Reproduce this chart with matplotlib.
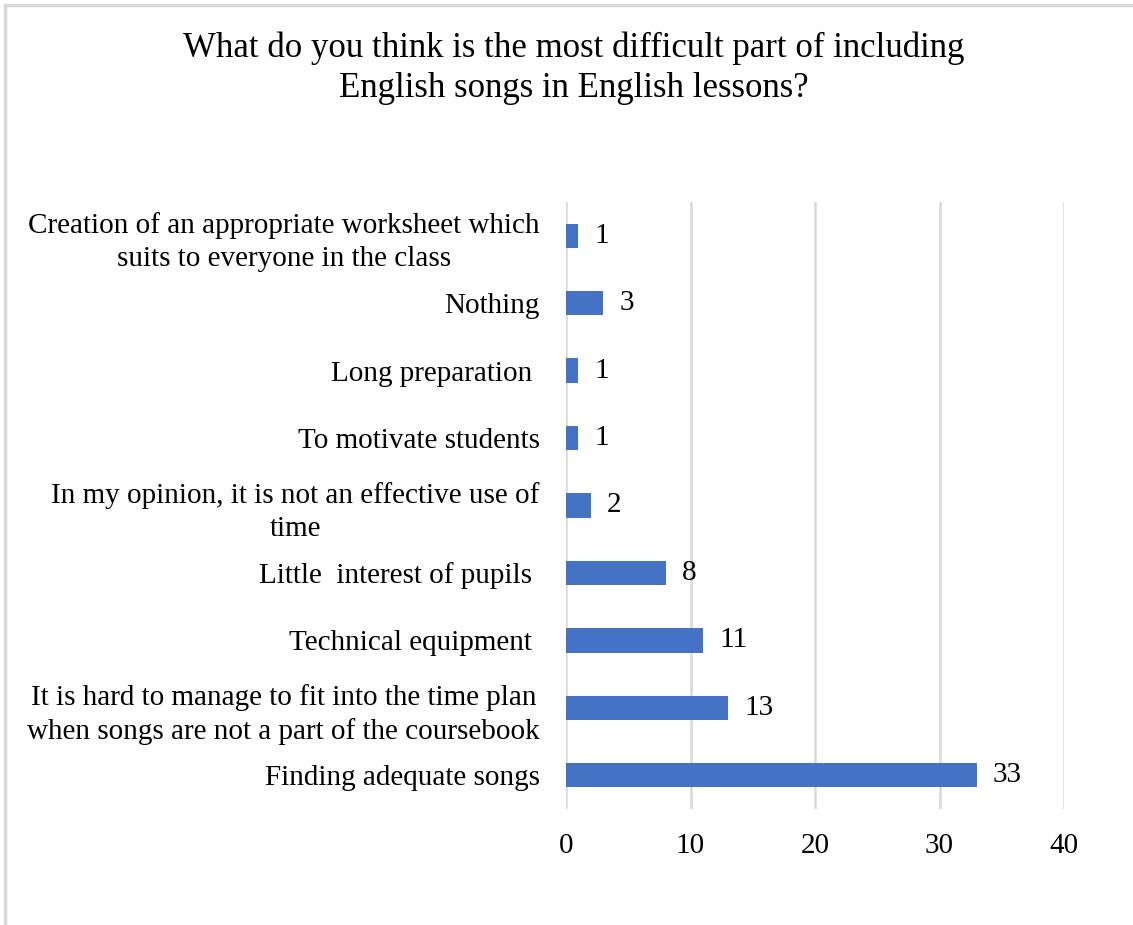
import matplotlib
matplotlib.use("Agg")
import matplotlib.pyplot as plt
from matplotlib.patches import Rectangle

categories = [
    "Creation of an appropriate worksheet which\nsuits to everyone in the class",
    "Nothing",
    "Long preparation ",
    "To motivate students",
    "In my opinion, it is not an effective use of\ntime",
    "Little  interest of pupils ",
    "Technical equipment ",
    "It is hard to manage to fit into the time plan\nwhen songs are not a part of the coursebook",
    "Finding adequate songs",
]
values = [1, 3, 1, 1, 2, 8, 11, 13, 33]
xticks = [0, 10, 20, 30, 40]
title = "What do you think is the most difficult part of including\nEnglish songs in English lessons?"

plt.rcParams['font.family'] = ['Liberation Serif', 'DejaVu Serif']

W, H = 1133, 925
fig = plt.figure(figsize=(W / 100, H / 100), dpi=100)
ax = fig.add_axes([566 / W, 1 - 809 / H, (1064 - 566) / W, (809 - 202) / H])

FS = 21
n = len(categories)
ypos = list(range(n - 1, -1, -1))
ax.barh(ypos, values, height=0.36, color="#4472C4", zorder=3)
for y, v in zip(ypos, values):
    ax.text(v + 1.3, y, str(v), va="center", ha="left", fontsize=FS, color="#000000")

ax.set_xlim(0, 40)
ax.set_ylim(-0.5, n - 0.5)
ax.set_xticks(xticks)
ax.set_xticklabels([str(t) for t in xticks], fontsize=FS)
ax.set_yticks(ypos)
ax.set_yticklabels(categories, fontsize=FS, linespacing=1.36, multialignment="center")
ax.tick_params(axis="both", length=0)
ax.tick_params(axis="y", pad=19)
ax.tick_params(axis="x", pad=17)
ax.xaxis.grid(True, color="#D9D9D9", linewidth=1.8, zorder=0)
for s in ax.spines.values():
    s.set_visible(False)

fig.text(574 / W, 1 - 68 / H, title, ha="center", va="center", fontsize=25, linespacing=1.28)

fig.patches.append(Rectangle((5 / W, -0.1), 1.2, 1 - 5 / H + 0.1, transform=fig.transFigure,
                             fill=False, edgecolor="#D9D9D9", linewidth=2.5))

fig.savefig("out.png", dpi=100)
